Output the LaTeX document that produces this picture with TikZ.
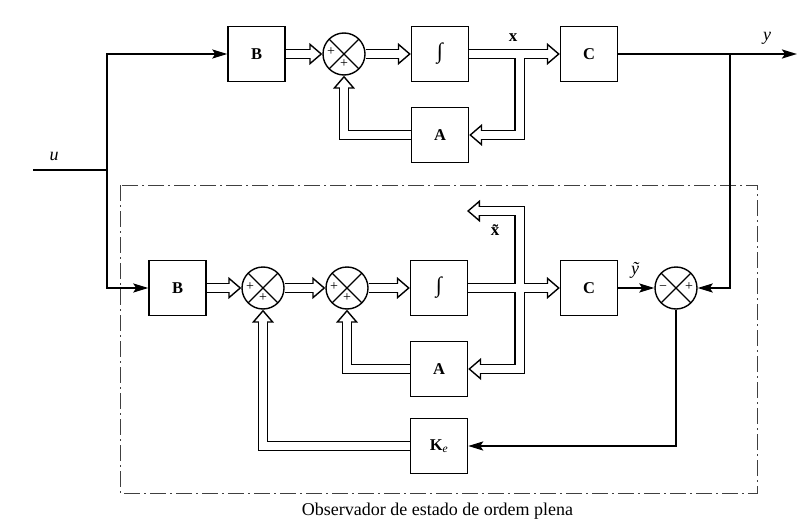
\documentclass[tikz,border=0pt]{standalone}
\usepackage{fontspec}
\setmainfont{Liberation Serif}
\usetikzlibrary{arrows.meta,backgrounds}
\newcommand\dblpaths[1]{%
  \draw[#1] (Bt.east) -- (st.west);
  \draw[#1] (st.east) -- (It.west);
  \draw[#1] (It.east) -- (Ct.west);
  \draw[#1] (jt) |- (At.east);
  \draw[#1] (At.west) -| (st.south);
  \draw[#1] (Bb.east) -- (s1.west);
  \draw[#1] (s1.east) -- (s2.west);
  \draw[#1] (s2.east) -- (Ib.west);
  \draw[#1] (Ib.east) -- (Cb.west);
  \draw[#1] (jb) |- (xt);
  \draw[#1] (jb) |- (Ab.east);
  \draw[#1] (Ab.west) -| (s2.south);
  \draw[#1] (Ke.west) -| (s1.south);
}
\begin{document}
\begin{tikzpicture}[x=1pt,y=-1pt,
  blk/.style={draw, line width=1.4pt, minimum width=57pt, minimum height=55pt, inner sep=0pt, font=\fontsize{16.5}{16.5}\selectfont\bfseries, fill=white},
  sumn/.style={circle, draw, line width=1.4pt, minimum size=42pt, inner sep=0pt, fill=white,
    path picture={\draw[line width=1.1pt] (path picture bounding box.north west) -- (path picture bounding box.south east) (path picture bounding box.north east) -- (path picture bounding box.south west);}},
  sgn/.style={font=\fontsize{14}{14}\selectfont, inner sep=0pt},
  sig/.style={line width=2.2pt, -{Stealth[length=15pt,width=9pt,inset=3pt]}},
  sigline/.style={line width=2.2pt},
  dout/.style={line width=10.8pt, shorten >=12pt},
  dtip/.style={line width=1.4pt, -{Triangle[length=13pt,width=22pt,fill=white]}},
  din/.style={line width=8pt, white, shorten >=10.5pt},
  lbl/.style={inner sep=0pt, font=\fontsize{18}{18}\selectfont\itshape},
]
\useasboundingbox (0,0) rectangle (797,524);
% top row
\node[blk] (Bt) at (256.5,54) {B};
\node[sumn] (st) at (344,54) {};
\node[blk] (It) at (440,54) {{\normalfont\fontsize{22}{22}\selectfont ∫}};
\node[blk] (Ct) at (589,54) {C};
\node[blk] (At) at (440,135) {A};
% bottom row
\node[blk] (Bb) at (177.5,288) {B};
\node[sumn] (s1) at (263,288) {};
\node[sumn] (s2) at (347,288) {};
\node[blk] (Ib) at (439,288) {{\normalfont\fontsize{22}{22}\selectfont ∫}};
\node[blk] (Cb) at (589,288) {C};
\node[sumn] (s3) at (676,288) {};
\node[blk] (Ab) at (439,369) {A};
\node[blk] (Ke) at (439,446) {K\textsubscript{\normalfont\itshape e}};
% junctions
\coordinate (jt) at (519.5,54);
\coordinate (jb) at (519.5,288);
\coordinate (xt) at (467,211);
% signs
\node[sgn] (p1) at (331,52) {+};
\node[sgn] (p2) at (344,64) {+};
\node[sgn] (p3) at (250,287) {+};
\node[sgn] (p4) at (263,298) {+};
\node[sgn] (p5) at (334,287) {+};
\node[sgn] (p6) at (347,298) {+};
\node[sgn] (p7) at (663,288) {−};
\node[sgn] (p8) at (689,287) {+};
% double (vector) connectors
\begin{pgfonlayer}{background}
\draw[line width=0.9pt, black!75, dash pattern=on 16pt off 4pt on 2pt off 4pt] (120,185) rectangle (757,493);
\dblpaths{dout}
\dblpaths{dtip}
\dblpaths{din}
\end{pgfonlayer}
% scalar connectors
\coordinate (uin) at (33,170);
\coordinate (uj) at (107,170);
\draw[sigline] (uin) -- (uj);
\draw[sig] (uj) |- (Bt.west);
\draw[sig] (uj) |- (Bb.west);
\coordinate (yout) at (797,54);
\coordinate (yj) at (730,54);
\draw[sig] (Ct.east) -- (yout);
\draw[sig] (yj) |- (s3.east);
\draw[sig] (Cb.east) -- (s3.west);
\draw[sig] (s3.south) |- (Ke.east);
% labels
\node[lbl] (lu) at (54,156) {u};
\node[lbl] (ly) at (767,38) {y};
\node[inner sep=0pt, font=\fontsize{17}{17}\selectfont\bfseries] (lx) at (513,38) {x};
\node[inner sep=0pt, font=\fontsize{17}{17}\selectfont\bfseries] (lxt) at (495,230) {\~x};
\node[lbl] (lyt) at (635,270) {ỹ};
\node[inner sep=0pt, font=\fontsize{18}{18}\selectfont] (cap) at (437.5,511) {Observador de estado de ordem plena};
\end{tikzpicture}
\end{document}
